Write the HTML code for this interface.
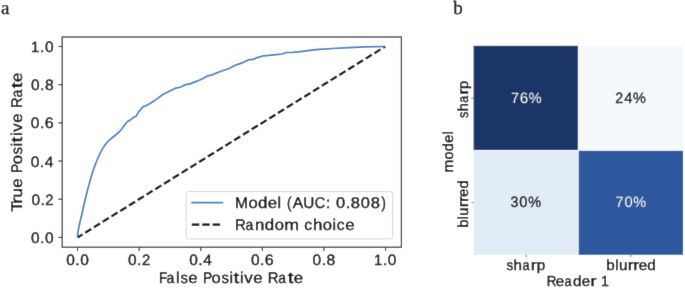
<!DOCTYPE html>
<html><head><meta charset="utf-8"><style>
html,body{margin:0;padding:0;background:#fff;width:685px;height:288px;overflow:hidden}
svg{display:block}
svg{will-change:transform;text-rendering:geometricPrecision}
svg{font-size:15.5px}
text{font-family:'Liberation Sans',sans-serif;fill:#000;stroke:#000;stroke-width:0.35px}
</style></head><body>
<svg width="685" height="288" viewBox="0 0 685 288">
<defs><filter id="bl" x="0" y="0" width="685" height="288" filterUnits="userSpaceOnUse"><feConvolveMatrix order="3" kernelMatrix="1 10 1 10 100 10 1 10 1" divisor="144" edgeMode="duplicate" preserveAlpha="true"/></filter></defs>
<rect width="685" height="288" fill="#fff"/>
<g filter="url(#bl)">
<rect width="685" height="288" fill="#fff"/>
<rect x="62.2" y="37.0" width="339.2" height="210.2" fill="none" stroke="#333" stroke-width="1.25"/>
<line x1="77.55" y1="247.2" x2="77.55" y2="251.0" stroke="#222" stroke-width="1.1"/>
<g style="font-size:15.0px"><text transform="translate(70.44,264.60) scale(1.033,1)" x="-4.17">0</text><text transform="translate(77.45,264.60) scale(1.060,1)" x="-2.08">.</text><text transform="translate(84.46,264.60) scale(1.033,1)" x="-4.17">0</text></g>
<line x1="139.15" y1="247.2" x2="139.15" y2="251.0" stroke="#222" stroke-width="1.1"/>
<g style="font-size:15.0px"><text transform="translate(132.28,264.60) scale(1.033,1)" x="-4.17">0</text><text transform="translate(139.29,264.60) scale(1.060,1)" x="-2.08">.</text><text transform="translate(146.12,264.60) scale(0.996,1)" x="-4.17">2</text></g>
<line x1="200.75" y1="247.2" x2="200.75" y2="251.0" stroke="#222" stroke-width="1.1"/>
<g style="font-size:15.0px"><text transform="translate(193.56,264.60) scale(1.033,1)" x="-4.17">0</text><text transform="translate(200.57,264.60) scale(1.060,1)" x="-2.08">.</text><text transform="translate(207.54,264.60) scale(1.033,1)" x="-4.12">4</text></g>
<line x1="262.35" y1="247.2" x2="262.35" y2="251.0" stroke="#222" stroke-width="1.1"/>
<g style="font-size:15.0px"><text transform="translate(255.21,264.60) scale(1.033,1)" x="-4.17">0</text><text transform="translate(262.22,264.60) scale(1.060,1)" x="-2.08">.</text><text transform="translate(269.29,264.60) scale(1.069,1)" x="-4.22">6</text></g>
<line x1="323.95" y1="247.2" x2="323.95" y2="251.0" stroke="#222" stroke-width="1.1"/>
<g style="font-size:15.0px"><text transform="translate(316.85,264.60) scale(1.033,1)" x="-4.17">0</text><text transform="translate(323.86,264.60) scale(1.060,1)" x="-2.08">.</text><text transform="translate(330.88,264.60) scale(1.044,1)" x="-4.17">8</text></g>
<line x1="385.55" y1="247.2" x2="385.55" y2="251.0" stroke="#222" stroke-width="1.1"/>
<g style="font-size:15.0px"><text transform="translate(378.25,264.60) scale(0.987,1)" x="-4.38">1</text><text transform="translate(385.12,264.60) scale(1.060,1)" x="-2.08">.</text><text transform="translate(392.14,264.60) scale(1.033,1)" x="-4.17">0</text></g>
<line x1="58.400000000000006" y1="237.40" x2="62.2" y2="237.40" stroke="#222" stroke-width="1.1"/>
<g style="font-size:15.0px"><text transform="translate(35.17,243.00) scale(1.033,1)" x="-4.17">0</text><text transform="translate(42.18,243.00) scale(1.060,1)" x="-2.08">.</text><text transform="translate(49.20,243.00) scale(1.033,1)" x="-4.17">0</text></g>
<line x1="58.400000000000006" y1="199.22" x2="62.2" y2="199.22" stroke="#222" stroke-width="1.1"/>
<g style="font-size:15.0px"><text transform="translate(35.67,204.82) scale(1.033,1)" x="-4.17">0</text><text transform="translate(42.68,204.82) scale(1.060,1)" x="-2.08">.</text><text transform="translate(49.50,204.82) scale(0.996,1)" x="-4.17">2</text></g>
<line x1="58.400000000000006" y1="161.04" x2="62.2" y2="161.04" stroke="#222" stroke-width="1.1"/>
<g style="font-size:15.0px"><text transform="translate(35.02,166.64) scale(1.033,1)" x="-4.17">0</text><text transform="translate(42.03,166.64) scale(1.060,1)" x="-2.08">.</text><text transform="translate(49.00,166.64) scale(1.033,1)" x="-4.12">4</text></g>
<line x1="58.400000000000006" y1="122.86" x2="62.2" y2="122.86" stroke="#222" stroke-width="1.1"/>
<g style="font-size:15.0px"><text transform="translate(35.12,128.46) scale(1.033,1)" x="-4.17">0</text><text transform="translate(42.13,128.46) scale(1.060,1)" x="-2.08">.</text><text transform="translate(49.20,128.46) scale(1.069,1)" x="-4.22">6</text></g>
<line x1="58.400000000000006" y1="84.68" x2="62.2" y2="84.68" stroke="#222" stroke-width="1.1"/>
<g style="font-size:15.0px"><text transform="translate(35.20,90.28) scale(1.033,1)" x="-4.17">0</text><text transform="translate(42.21,90.28) scale(1.060,1)" x="-2.08">.</text><text transform="translate(49.22,90.28) scale(1.044,1)" x="-4.17">8</text></g>
<line x1="58.400000000000006" y1="46.50" x2="62.2" y2="46.50" stroke="#222" stroke-width="1.1"/>
<g style="font-size:15.0px"><text transform="translate(35.30,52.10) scale(0.987,1)" x="-4.38">1</text><text transform="translate(42.18,52.10) scale(1.060,1)" x="-2.08">.</text><text transform="translate(49.20,52.10) scale(1.033,1)" x="-4.17">0</text></g>
<line x1="77.6" y1="237.4" x2="385.2" y2="46.5" stroke="#000" stroke-width="2.3" stroke-dasharray="7.2 3.118" stroke-dashoffset="1.44"/>
<path d="M77.3,236.5 L78.1,231.1 L79.6,223.5 L81.5,215.8 L83.5,206.7 L85.2,199.5 L87.2,191.2 L89.3,183.4 L91.6,175.6 L93.1,170.6 L94.8,165.8 L96.7,161.0 L98.6,156.5 L100.6,152.3 L102.6,148.6 L104.7,145.4 L107.0,142.5 L109.6,139.9 L112.5,137.5 L115.6,135.0 L118.6,132.4 L121.3,129.5 L124.0,125.8 L127.0,122.0 L130.6,119.7 L133.3,117.6 L136.1,116.2 L138.9,111.4 L141.0,109.3 L143.1,106.5 L145.1,106.1 L148.6,104.2 L152.8,101.7 L157.0,98.9 L162.5,94.7 L166.7,92.6 L170.8,90.4 L174.9,88.4 L180.9,87.0 L184.6,84.9 L190.0,83.9 L194.3,82.1 L199.8,80.0 L204.0,78.0 L207.7,75.8 L212.5,74.8 L216.2,73.1 L221.0,71.2 L225.5,69.8 L228.6,68.8 L234.7,65.5 L242.0,62.9 L248.7,59.8 L254.2,59.1 L257.2,57.6 L263.3,55.8 L268.8,55.4 L276.1,54.6 L282.1,54.0 L286.4,52.5 L293.1,52.4 L300.4,51.6 L315.8,49.6 L332.9,48.5 L348.6,47.6 L365.7,46.9 L384.3,46.5" fill="none" stroke="#3b7dbc" stroke-width="1.7" stroke-linejoin="round" stroke-linecap="round"/>
<g style="font-size:15.5px"><text transform="translate(163.34,282.70) scale(0.861,1)" x="-5.06">F</text><text transform="translate(170.62,282.70) scale(0.903,1)" x="-4.64">a</text><text transform="translate(177.79,282.70) scale(1.027,1)" x="-1.73">l</text><text transform="translate(184.05,282.70) scale(0.963,1)" x="-3.81">s</text><text transform="translate(192.87,282.70) scale(1.085,1)" x="-4.30">e</text><text transform="translate(207.79,282.70) scale(0.888,1)" x="-5.40">P</text><text transform="translate(216.19,282.70) scale(1.068,1)" x="-4.31">o</text><text transform="translate(225.04,282.70) scale(0.963,1)" x="-3.81">s</text><text transform="translate(231.22,282.70) scale(1.027,1)" x="-1.72">i</text><text transform="translate(236.46,282.70) scale(1.343,1)" x="-2.21">t</text><text transform="translate(241.65,282.70) scale(1.027,1)" x="-1.72">i</text><text transform="translate(248.42,282.70) scale(1.084,1)" x="-3.88">v</text><text transform="translate(257.83,282.70) scale(1.085,1)" x="-4.30">e</text><text transform="translate(273.50,282.70) scale(0.961,1)" x="-5.87">R</text><text transform="translate(282.55,282.70) scale(0.903,1)" x="-4.64">a</text><text transform="translate(290.64,282.70) scale(1.343,1)" x="-2.21">t</text><text transform="translate(298.47,282.70) scale(1.085,1)" x="-4.30">e</text></g>
<g style="font-size:15.5px"><text transform="translate(22.20,206.59) rotate(-90) scale(1.096,1)" x="-4.73">T</text><text transform="translate(22.20,200.22) rotate(-90) scale(1.287,1)" x="-2.97">r</text><text transform="translate(22.20,192.84) rotate(-90) scale(1.083,1)" x="-4.30">u</text><text transform="translate(22.20,183.06) rotate(-90) scale(1.085,1)" x="-4.30">e</text><text transform="translate(22.20,168.14) rotate(-90) scale(0.888,1)" x="-5.40">P</text><text transform="translate(22.20,159.74) rotate(-90) scale(1.068,1)" x="-4.31">o</text><text transform="translate(22.20,150.89) rotate(-90) scale(0.963,1)" x="-3.81">s</text><text transform="translate(22.20,144.71) rotate(-90) scale(1.027,1)" x="-1.72">i</text><text transform="translate(22.20,139.47) rotate(-90) scale(1.343,1)" x="-2.21">t</text><text transform="translate(22.20,134.27) rotate(-90) scale(1.027,1)" x="-1.72">i</text><text transform="translate(22.20,127.51) rotate(-90) scale(1.084,1)" x="-3.88">v</text><text transform="translate(22.20,118.10) rotate(-90) scale(1.085,1)" x="-4.30">e</text><text transform="translate(22.20,102.42) rotate(-90) scale(0.961,1)" x="-5.87">R</text><text transform="translate(22.20,93.37) rotate(-90) scale(0.903,1)" x="-4.64">a</text><text transform="translate(22.20,85.29) rotate(-90) scale(1.343,1)" x="-2.21">t</text><text transform="translate(22.20,77.45) rotate(-90) scale(1.085,1)" x="-4.30">e</text></g>
<rect x="186.2" y="191.6" width="206.5" height="47.3" rx="2.5" ry="2.5" fill="#fff" fill-opacity="0.8" stroke="#d6d6d6" stroke-width="1"/>
<line x1="191.3" y1="202.6" x2="223.2" y2="202.6" stroke="#3b7dbc" stroke-width="1.7"/>
<line x1="191.8" y1="224.7" x2="220.3" y2="224.7" stroke="#000" stroke-width="2.3" stroke-dasharray="7.5 2.9"/>
<g style="font-size:15.5px"><text transform="translate(241.49,208.20) scale(1.002,1)" x="-6.46">M</text><text transform="translate(252.97,208.20) scale(1.068,1)" x="-4.31">o</text><text transform="translate(262.40,208.20) scale(1.092,1)" x="-4.14">d</text><text transform="translate(272.42,208.20) scale(1.085,1)" x="-4.30">e</text><text transform="translate(279.36,208.20) scale(1.027,1)" x="-1.73">l</text><text transform="translate(289.55,208.20) scale(0.850,1)" x="-3.02">(</text><text transform="translate(297.87,208.20) scale(1.012,1)" x="-5.17">A</text><text transform="translate(308.89,208.20) scale(0.987,1)" x="-5.60">U</text><text transform="translate(320.04,208.20) scale(0.932,1)" x="-5.70">C</text><text transform="translate(328.09,208.20) scale(1.087,1)" x="-2.15">:</text><text transform="translate(340.61,208.20) scale(1.059,1)" x="-4.31">0</text><text transform="translate(348.03,208.20) scale(1.087,1)" x="-2.15">.</text><text transform="translate(355.46,208.20) scale(1.070,1)" x="-4.31">8</text><text transform="translate(365.37,208.20) scale(1.059,1)" x="-4.31">0</text><text transform="translate(375.27,208.20) scale(1.070,1)" x="-4.31">8</text><text transform="translate(383.22,208.20) scale(0.850,1)" x="-2.15">)</text></g>
<g style="font-size:15.5px"><text transform="translate(240.72,229.90) scale(0.961,1)" x="-5.87">R</text><text transform="translate(249.77,229.90) scale(0.903,1)" x="-4.64">a</text><text transform="translate(259.76,229.90) scale(1.083,1)" x="-4.32">n</text><text transform="translate(269.31,229.90) scale(1.092,1)" x="-4.14">d</text><text transform="translate(279.30,229.90) scale(1.068,1)" x="-4.31">o</text><text transform="translate(291.69,229.90) scale(1.145,1)" x="-6.46">m</text><text transform="translate(308.40,229.90) scale(1.008,1)" x="-4.00">c</text><text transform="translate(317.71,229.90) scale(1.091,1)" x="-4.34">h</text><text transform="translate(327.37,229.90) scale(1.068,1)" x="-4.31">o</text><text transform="translate(334.30,229.90) scale(1.027,1)" x="-1.72">i</text><text transform="translate(340.68,229.90) scale(1.008,1)" x="-4.00">c</text><text transform="translate(349.82,229.90) scale(1.085,1)" x="-4.30">e</text></g>
<text x="1" y="13.5" style="font-family:'Liberation Serif',serif;font-size:19px">a</text>
<text x="453.2" y="13.5" style="font-family:'Liberation Serif',serif;font-size:19px">b</text>
<rect x="473.6" y="45.8" width="104.69999999999993" height="104.60000000000001" fill="#1c3468"/>
<rect x="578.3" y="45.8" width="104.70000000000005" height="104.60000000000001" fill="#f5f9fd"/>
<rect x="473.6" y="150.4" width="104.69999999999993" height="104.4" fill="#e1ecf6"/>
<rect x="578.3" y="150.4" width="104.70000000000005" height="104.4" fill="#2d599d"/>
<line x1="578.3" y1="45.8" x2="578.3" y2="254.8" stroke="#fff" stroke-width="0.75"/>
<line x1="473.6" y1="150.4" x2="683.0" y2="150.4" stroke="#fff" stroke-width="0.75"/>
<g style="font-size:15.0px"><text transform="translate(514.98,102.70) scale(0.962,1)" x="-4.18" style="fill:#f2f2f2;stroke:#f2f2f2;stroke-width:0px">7</text><text transform="translate(523.96,102.70) scale(1.018,1)" x="-4.22" style="fill:#f2f2f2;stroke:#f2f2f2;stroke-width:0px">6</text><text transform="translate(535.02,102.70) scale(0.958,1)" x="-6.67" style="fill:#f2f2f2;stroke:#f2f2f2;stroke-width:0px">%</text></g>
<g style="font-size:15.0px"><text transform="translate(619.28,102.70) scale(0.948,1)" x="-4.17" style="fill:#111;stroke:#111;stroke-width:0.35px">2</text><text transform="translate(628.32,102.70) scale(0.984,1)" x="-4.12" style="fill:#111;stroke:#111;stroke-width:0.35px">4</text><text transform="translate(639.48,102.70) scale(0.958,1)" x="-6.67" style="fill:#111;stroke:#111;stroke-width:0.35px">%</text></g>
<g style="font-size:15.0px"><text transform="translate(514.52,207.00) scale(0.945,1)" x="-4.13" style="fill:#111;stroke:#111;stroke-width:0.35px">3</text><text transform="translate(523.45,207.00) scale(0.984,1)" x="-4.17" style="fill:#111;stroke:#111;stroke-width:0.35px">0</text><text transform="translate(534.56,207.00) scale(0.958,1)" x="-6.67" style="fill:#111;stroke:#111;stroke-width:0.35px">%</text></g>
<g style="font-size:15.0px"><text transform="translate(619.58,207.00) scale(0.962,1)" x="-4.18" style="fill:#f2f2f2;stroke:#f2f2f2;stroke-width:0px">7</text><text transform="translate(628.51,207.00) scale(0.984,1)" x="-4.17" style="fill:#f2f2f2;stroke:#f2f2f2;stroke-width:0px">0</text><text transform="translate(639.62,207.00) scale(0.958,1)" x="-6.67" style="fill:#f2f2f2;stroke:#f2f2f2;stroke-width:0px">%</text></g>
<g style="font-size:14.6px"><text transform="translate(468.40,114.87) rotate(-90) scale(0.880,1)" x="-3.59">s</text><text transform="translate(468.40,107.13) rotate(-90) scale(0.996,1)" x="-4.09">h</text><text transform="translate(468.40,99.02) rotate(-90) scale(0.850,1)" x="-4.37">a</text><text transform="translate(468.40,91.35) rotate(-90) scale(1.176,1)" x="-2.79">r</text><text transform="translate(468.40,84.71) rotate(-90) scale(0.999,1)" x="-4.22">p</text></g>
<g style="font-size:14.6px"><text transform="translate(468.40,223.58) rotate(-90) scale(0.999,1)" x="-4.22">b</text><text transform="translate(468.40,217.71) rotate(-90) scale(0.938,1)" x="-1.63">l</text><text transform="translate(468.40,211.64) rotate(-90) scale(0.990,1)" x="-4.05">u</text><text transform="translate(468.40,203.99) rotate(-90) scale(1.176,1)" x="-2.79">r</text><text transform="translate(468.40,198.72) rotate(-90) scale(1.176,1)" x="-2.79">r</text><text transform="translate(468.40,192.74) rotate(-90) scale(0.991,1)" x="-4.05">e</text><text transform="translate(468.40,184.61) rotate(-90) scale(0.998,1)" x="-3.90">d</text></g>
<g style="font-size:14.6px"><text transform="translate(452.80,166.08) rotate(-90) scale(1.046,1)" x="-6.08">m</text><text transform="translate(452.80,155.49) rotate(-90) scale(0.976,1)" x="-4.06">o</text><text transform="translate(452.80,147.38) rotate(-90) scale(0.998,1)" x="-3.90">d</text><text transform="translate(452.80,138.75) rotate(-90) scale(0.991,1)" x="-4.05">e</text><text transform="translate(452.80,132.78) rotate(-90) scale(0.938,1)" x="-1.63">l</text></g>
<g style="font-size:14.6px"><text transform="translate(509.69,269.80) scale(0.919,1)" x="-3.59">s</text><text transform="translate(517.78,269.80) scale(1.041,1)" x="-4.09">h</text><text transform="translate(526.25,269.80) scale(0.862,1)" x="-4.37">a</text><text transform="translate(534.27,269.80) scale(1.229,1)" x="-2.79">r</text><text transform="translate(541.21,269.80) scale(1.043,1)" x="-4.22">p</text></g>
<g style="font-size:14.6px"><text transform="translate(610.60,270.00) scale(1.043,1)" x="-4.22">b</text><text transform="translate(616.73,270.00) scale(0.980,1)" x="-1.63">l</text><text transform="translate(623.07,270.00) scale(1.034,1)" x="-4.05">u</text><text transform="translate(631.06,270.00) scale(1.229,1)" x="-2.79">r</text><text transform="translate(636.57,270.00) scale(1.229,1)" x="-2.79">r</text><text transform="translate(642.82,270.00) scale(1.036,1)" x="-4.05">e</text><text transform="translate(651.31,270.00) scale(1.042,1)" x="-3.90">d</text></g>
<g style="font-size:14.6px"><text transform="translate(551.91,285.90) scale(0.917,1)" x="-5.53">R</text><text transform="translate(559.98,285.90) scale(1.036,1)" x="-4.05">e</text><text transform="translate(568.34,285.90) scale(0.862,1)" x="-4.37">a</text><text transform="translate(577.04,285.90) scale(1.042,1)" x="-3.90">d</text><text transform="translate(586.05,285.90) scale(1.036,1)" x="-4.05">e</text><text transform="translate(593.86,285.90) scale(1.229,1)" x="-2.79">r</text><text transform="translate(605.13,285.90) scale(0.965,1)" x="-4.26">1</text></g>
<line x1="471.3" y1="98.2" x2="473.6" y2="98.2" stroke="#666" stroke-width="0.9"/>
<line x1="471.3" y1="202.7" x2="473.6" y2="202.7" stroke="#666" stroke-width="0.9"/>
<line x1="526.2" y1="254.8" x2="526.2" y2="257.1" stroke="#666" stroke-width="0.9"/>
<line x1="630.9" y1="254.8" x2="630.9" y2="257.1" stroke="#666" stroke-width="0.9"/>
</g>
</svg>
</body></html>
